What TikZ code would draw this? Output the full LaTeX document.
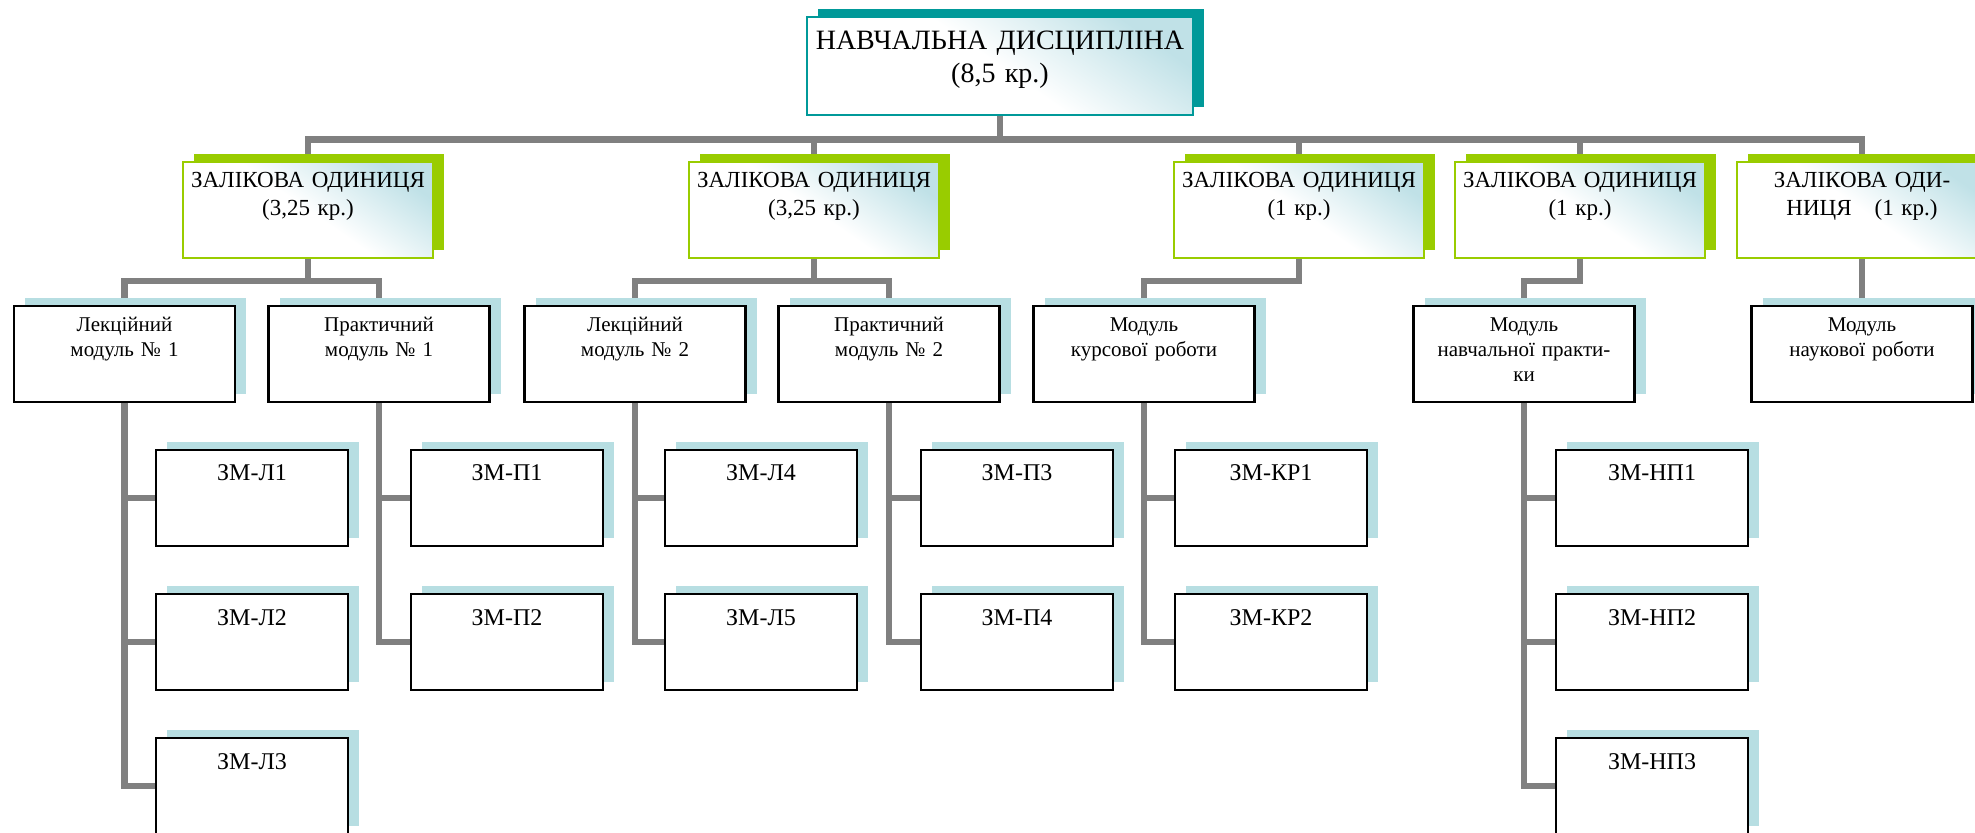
\documentclass[tikz,border=0pt]{standalone}
\usepackage{fontspec}
\setmainfont{Liberation Serif}
\usetikzlibrary{shadows,backgrounds}

\definecolor{discteal}{HTML}{009999}
\definecolor{unitgreen}{HTML}{99CC00}
\definecolor{shadowblue}{HTML}{B7DEE2}
\definecolor{cardblue}{HTML}{B5DCE3}
\definecolor{linkgray}{HTML}{808080}

\tikzset{
  card/.style={inner sep=0pt, align=center,
    top color=cardblue!85, bottom color=white, middle color=white, shading angle=-35},
  disc/.style={card, draw=discteal, line width=0.8pt, text width=193pt,
    text height=16.5pt, text depth=32.5pt, font=\fontsize{14pt}{16.5pt}\selectfont,
    general shadow={fill=discteal, shadow xshift=5.5pt, shadow yshift=4pt}},
  unit/.style={card, draw=unitgreen, line width=1pt, text width=125pt,
    text height=13pt, text depth=35pt, font=\fontsize{11.5pt}{14pt}\selectfont,
    general shadow={fill=unitgreen, shadow xshift=5.5pt, shadow yshift=4pt}},
  modbox/.style={inner sep=0pt, align=center, fill=white, draw=black, line width=1.2pt,
    text width=110.5pt, text height=12.75pt, text depth=35.25pt,
    font=\fontsize{10.5pt}{12.4pt}\selectfont,
    general shadow={fill=shadowblue, shadow xshift=5.5pt, shadow yshift=4pt}},
  zmbox/.style={modbox, text width=96pt, text height=15.5pt, text depth=32.5pt,
    font=\fontsize{12pt}{14pt}\selectfont},
  link/.style={draw=linkgray, line width=3.4pt},
}

\begin{document}
\begin{tikzpicture}[x=0.5pt, y=-0.5pt]
  \def\Uy{210} % units row
  \def\My{354} % modules row
  \def\Ra{498} % first row of ZM
  \def\Rb{642} % second row
  \def\Rc{786} % third row

  \useasboundingbox (0,0) rectangle (1975,833);
  \clip (0,0) rectangle (1975,833);

  % Discipline
  \node[disc] (disc) at (1000,66) {НАВЧАЛЬНА ДИСЦИПЛІНА\\(8,5 кр.)};

  % Credit units
  \node[unit] (z1) at ( 308,\Uy) {ЗАЛІКОВА ОДИНИЦЯ\\(3,25 кр.)};
  \node[unit] (z2) at ( 814,\Uy) {ЗАЛІКОВА ОДИНИЦЯ\\(3,25 кр.)};
  \node[unit] (z3) at (1299,\Uy) {ЗАЛІКОВА ОДИНИЦЯ\\(1 кр.)};
  \node[unit] (z4) at (1580,\Uy) {ЗАЛІКОВА ОДИНИЦЯ\\(1 кр.)};
  \node[unit] (z5) at (1862,\Uy) {ЗАЛІКОВА ОДИ-\\НИЦЯ\ \ \ (1 кр.)};

  % Modules
  \node[modbox] (lm1) at ( 124.5,\My) {Лекційний\\модуль № 1};
  \node[modbox] (pm1) at ( 379,\My) {Практичний\\модуль № 1};
  \node[modbox] (lm2) at ( 635,\My) {Лекційний\\модуль № 2};
  \node[modbox] (pm2) at ( 889,\My) {Практичний\\модуль № 2};
  \node[modbox] (kr)  at (1144,\My) {Модуль\\курсової роботи};
  \node[modbox] (np)  at (1524,\My) {Модуль\\навчальної практи-\\ки};
  \node[modbox] (nr)  at (1862,\My) {Модуль\\наукової роботи};

  % Content modules
  \node[zmbox] (zl1)  at ( 252,\Ra) {ЗМ-Л1};
  \node[zmbox] (zl2)  at ( 252,\Rb) {ЗМ-Л2};
  \node[zmbox] (zl3)  at ( 252,\Rc) {ЗМ-Л3};
  \node[zmbox] (zp1)  at ( 507,\Ra) {ЗМ-П1};
  \node[zmbox] (zp2)  at ( 507,\Rb) {ЗМ-П2};
  \node[zmbox] (zl4)  at ( 761,\Ra) {ЗМ-Л4};
  \node[zmbox] (zl5)  at ( 761,\Rb) {ЗМ-Л5};
  \node[zmbox] (zp3)  at (1017,\Ra) {ЗМ-П3};
  \node[zmbox] (zp4)  at (1017,\Rb) {ЗМ-П4};
  \node[zmbox] (zkr1) at (1271,\Ra) {ЗМ-КР1};
  \node[zmbox] (zkr2) at (1271,\Rb) {ЗМ-КР2};
  \node[zmbox] (znp1) at (1652,\Ra) {ЗМ-НП1};
  \node[zmbox] (znp2) at (1652,\Rb) {ЗМ-НП2};
  \node[zmbox] (znp3) at (1652,\Rc) {ЗМ-НП3};

  % Connectors behind the boxes
  \begin{scope}[on background layer]
    \draw[link] (disc.south) -- ++(0,24) -| (z1.north);
    \draw[link] (disc.south) -- ++(0,24) -| (z2.north);
    \draw[link] (disc.south) -- ++(0,24) -| (z3.north);
    \draw[link] (disc.south) -- ++(0,24) -| (z4.north);
    \draw[link] (disc.south) -- ++(0,24) -| (z5.north);

    \draw[link] (z1.south) -- ++(0,22) -| (lm1.north);
    \draw[link] (z1.south) -- ++(0,22) -| (pm1.north);
    \draw[link] (z2.south) -- ++(0,22) -| (lm2.north);
    \draw[link] (z2.south) -- ++(0,22) -| (pm2.north);
    \draw[link] (z3.south) -- ++(0,22) -| (kr.north);
    \draw[link] (z4.south) -- ++(0,22) -| (np.north);
    \draw[link] (z5.south) -- (nr.north);

    \draw[link] (lm1.south) |- (zl1.west);
    \draw[link] (lm1.south) |- (zl2.west);
    \draw[link] (lm1.south) |- (zl3.west);
    \draw[link] (pm1.south) |- (zp1.west);
    \draw[link] (pm1.south) |- (zp2.west);
    \draw[link] (lm2.south) |- (zl4.west);
    \draw[link] (lm2.south) |- (zl5.west);
    \draw[link] (pm2.south) |- (zp3.west);
    \draw[link] (pm2.south) |- (zp4.west);
    \draw[link] (kr.south)  |- (zkr1.west);
    \draw[link] (kr.south)  |- (zkr2.west);
    \draw[link] (np.south)  |- (znp1.west);
    \draw[link] (np.south)  |- (znp2.west);
    \draw[link] (np.south)  |- (znp3.west);
  \end{scope}
\end{tikzpicture}
\end{document}
